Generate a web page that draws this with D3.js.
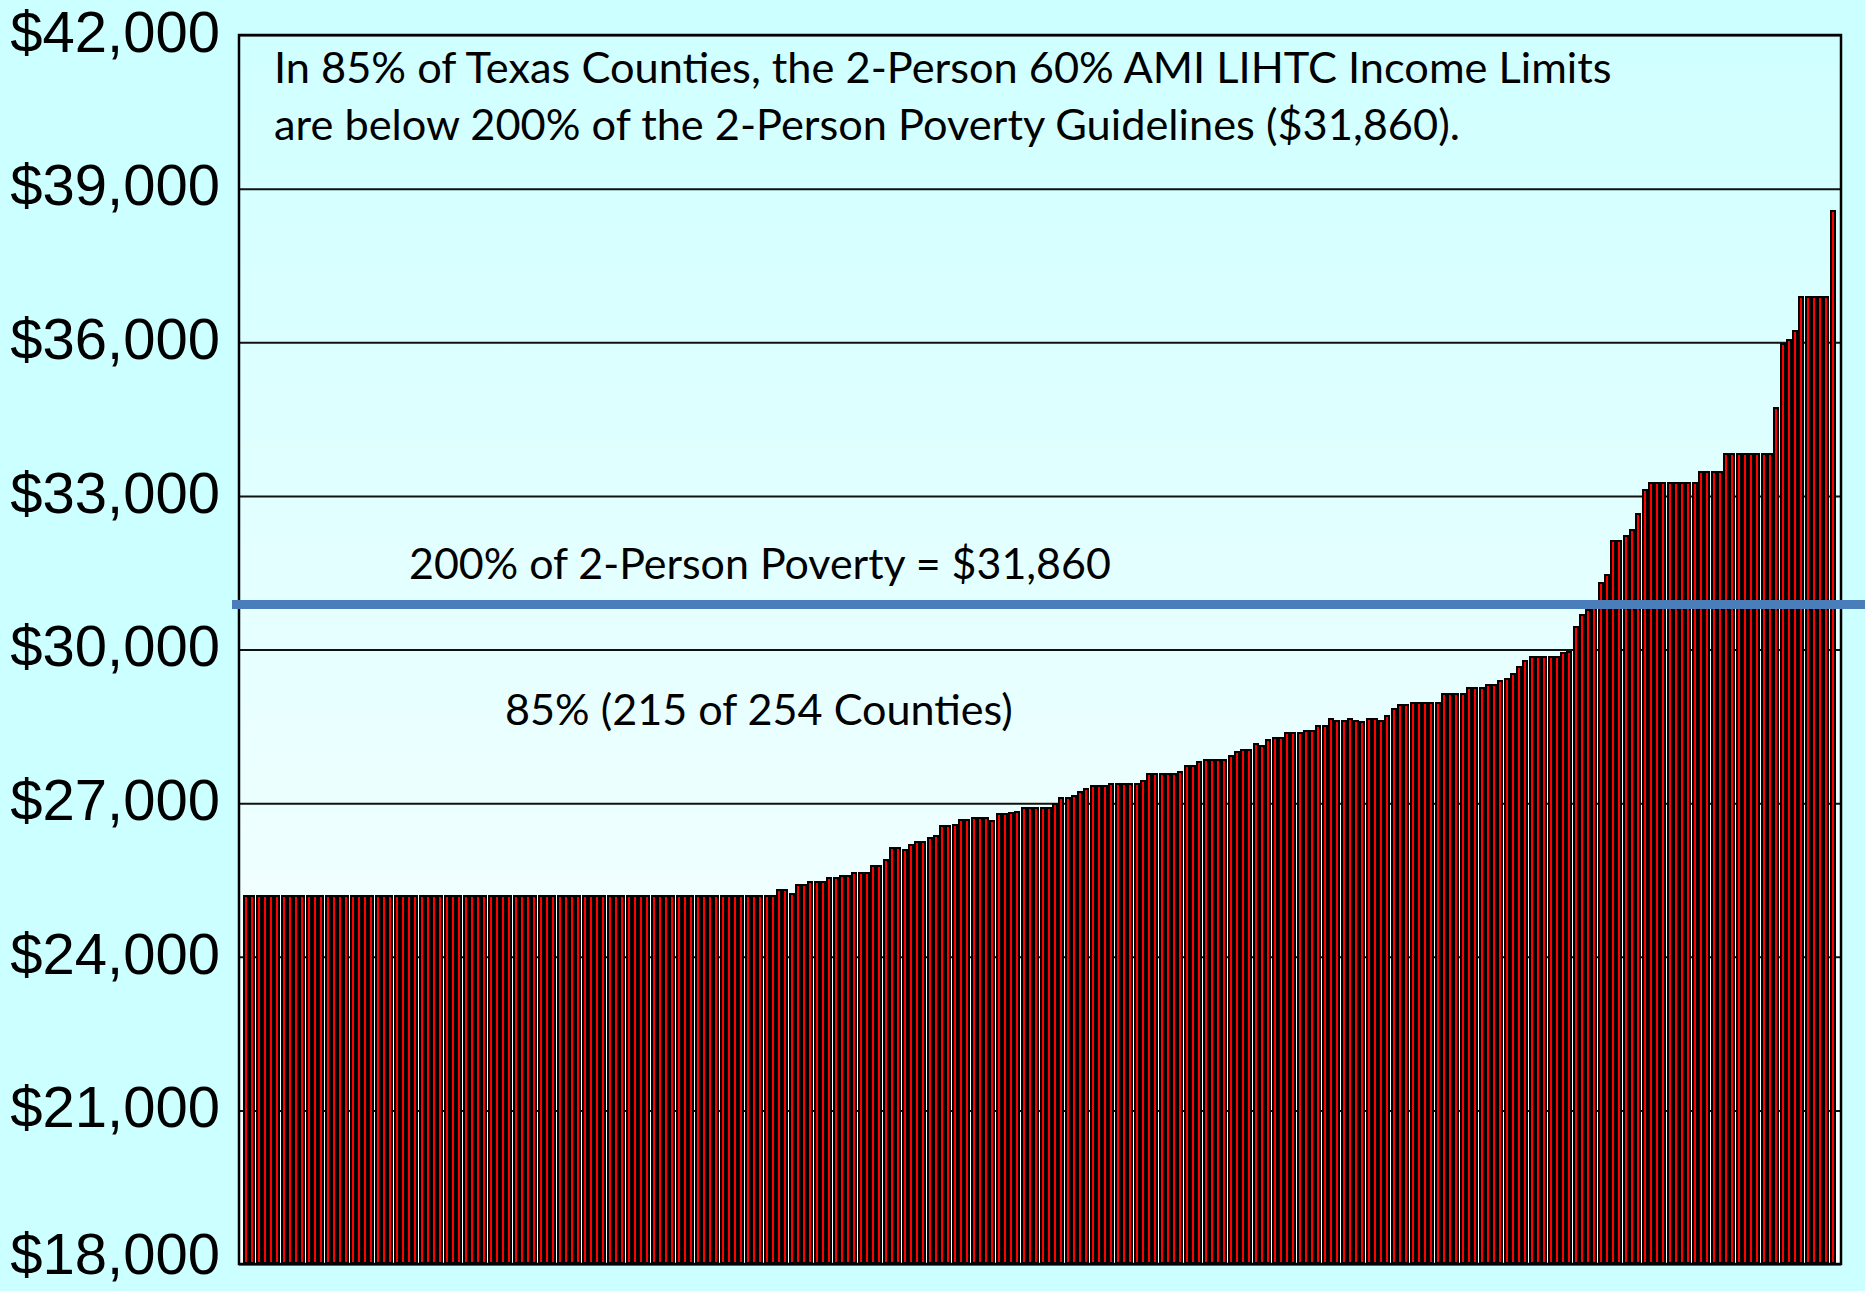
<!DOCTYPE html>
<html>
<head>
<meta charset="utf-8">
<script src="https://d3js.org/d3.v7.min.js"></script>
<style>
body { margin: 0; background: #ccffff; }
.ylab text { font-family: "Liberation Sans", Arial, sans-serif; font-size: 58px; fill: #000; }
.note { font-family: Lato, "Open Sans", sans-serif; fill: #000; }
</style>
</head>
<body>
<svg id="chart" width="1865" height="1291"></svg>
<script>
// 2-person 60% AMI LIHTC income limits, one bar per Texas county, sorted
var incomeLimits = [
  25200, 25200, 25200, 25200, 25200, 25200, 25200, 25200, 25200, 25200, 25200, 25200, 25200, 25200, 25200, 25200, 25200,
  25200, 25200, 25200, 25200, 25200, 25200, 25200, 25200, 25200, 25200, 25200, 25200, 25200, 25200, 25200, 25200, 25200,
  25200, 25200, 25200, 25200, 25200, 25200, 25200, 25200, 25200, 25200, 25200, 25200, 25200, 25200, 25200, 25200, 25200,
  25200, 25200, 25200, 25200, 25200, 25200, 25200, 25200, 25200, 25200, 25200, 25200, 25200, 25200, 25200, 25200, 25200,
  25200, 25200, 25200, 25200, 25200, 25200, 25200, 25200, 25200, 25200, 25200, 25200, 25200, 25200, 25200, 25200, 25200,
  25320, 25320, 25240, 25430, 25430, 25470, 25470, 25470, 25550, 25550,
  25600, 25600, 25660, 25660, 25660, 25790, 25790, 25910, 26140, 26140,
  26100, 26210, 26270, 26270, 26330, 26370, 26570, 26570, 26600, 26690,
  26690, 26720, 26720, 26720, 26680, 26800, 26800, 26830, 26840, 26920,
  26920, 26920, 26930, 26930, 27000, 27110, 27110, 27160, 27240, 27290,
  27360, 27360, 27360, 27390, 27390, 27390, 27390, 27390, 27460, 27580,
  27580, 27580, 27580, 27580, 27630, 27740, 27740, 27820, 27860, 27860,
  27860, 27860, 27940, 28020, 28060, 28060, 28180, 28130, 28250, 28300,
  28300, 28380, 28380, 28380, 28430, 28430, 28530, 28530, 28660, 28620,
  28620, 28660, 28620, 28610, 28660, 28660, 28620, 28730, 28850, 28930,
  28930, 28970, 28970, 28970, 28970, 28970, 29160, 29160, 29160, 29160,
  29270, 29270, 29270, 29330, 29330, 29400, 29440, 29550, 29680, 29790,
  29870, 29870, 29870, 29870, 29870, 29960, 29980, 30460, 30690, 30800,
  30970, 31320, 31480, 32140, 32140, 32240, 32350, 32660, 33130, 33280,
  33280, 33280, 33280, 33280, 33280, 33280, 33280, 33490, 33490, 33490,
  33490, 33830, 33830, 33830, 33830, 33830, 33830, 33830, 33830, 34740,
  35990, 36070, 36230, 36900, 36900, 36900, 36900, 36900, 38580
]
var yTicks = [18000, 21000, 24000, 27000, 30000, 33000, 36000, 39000, 42000]
// the blue line sits here in the picture, even though its label says $31,860
var povertyLineAt = 30880
var headline = [
  "In 85% of Texas Counties, the 2-Person 60% AMI LIHTC Income Limits",
  "are below 200% of the 2-Person Poverty Guidelines ($31,860)."
]
var povertyLabel = "200% of 2-Person Poverty = $31,860"
var shareLabel = "85% (215 of 254 Counties)"

var w = 1865
var h = 1291
var plotL = 239, plotR = 1841, plotT = 35, plotB = 1264

var svg = d3.select("#chart")

var grad = svg.append("defs").append("linearGradient")
              .attr("id", "plotbg")
              .attr("x1", 0).attr("y1", 0).attr("x2", 0).attr("y2", 1)
grad.append("stop").attr("offset", "0%").attr("stop-color", "#d0ffff")
grad.append("stop").attr("offset", "75%").attr("stop-color", "#f2ffff")
grad.append("stop").attr("offset", "100%").attr("stop-color", "#f8ffff")

var yScale = d3.scaleLinear()
               .domain([18000, 42000])
               .range([plotB, plotT])

var xScale = d3.scaleBand()
               .domain(d3.range(incomeLimits.length))
               .range([plotL + 4, plotR - 5])

svg.append("rect")
   .attr("x", plotL)
   .attr("y", plotT)
   .attr("width", plotR - plotL)
   .attr("height", plotB - plotT)
   .attr("fill", "url(#plotbg)")

// gridlines
var grid = d3.axisLeft(yScale)
             .tickValues(yTicks)
             .tickSize(-(plotR - plotL))
             .tickFormat("")
svg.append("g")
   .attr("transform", "translate(" + plotL + ",0)")
   .call(grid)
   .call(function(g){ g.select(".domain").remove() })
   .selectAll("line")
   .attr("stroke", "#111")
   .attr("stroke-width", 2)

// bars: black body with a thin red core
var bars = svg.append("g")
bars.selectAll("rect.body")
    .data(incomeLimits)
    .enter()
    .append("rect")
    .attr("class", "body")
    .attr("x", function(d, i){ return Math.round(xScale(i)) })
    .attr("y", function(d){ return Math.round(yScale(d)) })
    .attr("width", 6)
    .attr("height", function(d){ return plotB - Math.round(yScale(d)) })
    .attr("fill", "#000")
bars.selectAll("rect.core")
    .data(incomeLimits)
    .enter()
    .append("rect")
    .attr("class", "core")
    .attr("x", function(d, i){ return Math.round(xScale(i)) + 2 })
    .attr("y", function(d){ return Math.round(yScale(d)) + 2 })
    .attr("width", 2)
    .attr("height", function(d){ return plotB - Math.round(yScale(d)) - 4 })
    .attr("fill", "#ff0000")

// plot frame
svg.append("rect")
   .attr("x", plotL)
   .attr("y", plotT)
   .attr("width", plotR - plotL)
   .attr("height", plotB - plotT)
   .attr("fill", "none")
   .attr("stroke", "#000")
   .attr("stroke-width", 2.5)

// y labels
var yAxis = d3.axisLeft(yScale)
              .tickValues(yTicks)
              .tickSize(0)
              .tickPadding(19)
              .tickFormat(function(d){ return "$" + d3.format(",")(d) })
svg.append("g")
   .attr("class", "ylab")
   .attr("transform", "translate(" + plotL + ",0)")
   .call(yAxis)
   .call(function(g){ g.select(".domain").remove() })
   .selectAll("text")
   .attr("font-family", null)
   .attr("font-size", null)
   // lowest label sits on the page edge, lift it a touch
   .attr("dy", function(d){ return d == 18000 ? "0.16em" : "0.28em" })

// poverty line
svg.append("line")
   .attr("x1", 232)
   .attr("x2", w)
   .attr("y1", yScale(povertyLineAt))
   .attr("y2", yScale(povertyLineAt))
   .attr("stroke", "#4a7ebb")
   .attr("stroke-width", 9)

// text, sized to the widths in the picture
function fitText(x, y, str, width){
    var t = svg.append("text")
               .attr("class", "note")
               .attr("x", x)
               .attr("y", y)
               .style("font-size", "40px")
               .text(str)
    var len = t.node().getComputedTextLength()
    t.style("font-size", (40 * width / len) + "px")
    return t
}
var hl = fitText(274, 83, headline[0], 1338)
svg.append("text")
   .attr("class", "note")
   .attr("x", 274)
   .attr("y", 140)
   .style("font-size", hl.style("font-size"))
   .text(headline[1])
fitText(409, 579, povertyLabel, 702)
fitText(505, 725, shareLabel, 508)
</script>
</body>
</html>
